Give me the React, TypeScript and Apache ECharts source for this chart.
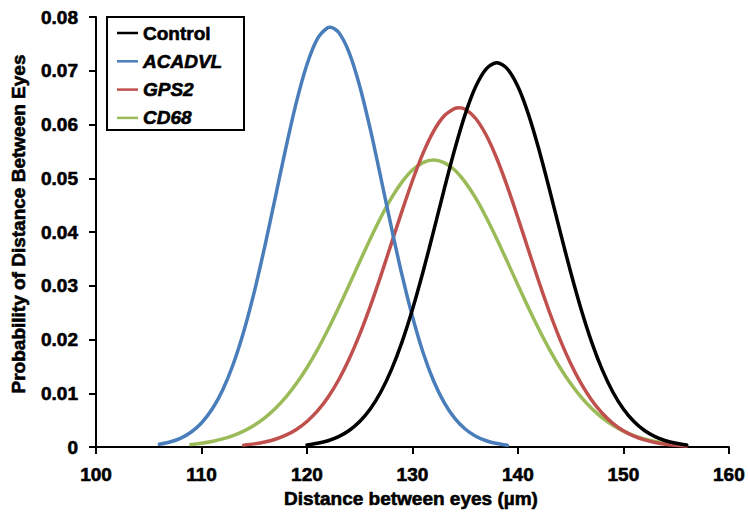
import React, { useEffect, useRef } from "react";
import * as echarts from "echarts";

const FONT = "'Liberation Sans', Arial, sans-serif";

const seriesNames = ["Control", "ACADVL", "GPS2", "CD68"];
const seriesColors = ["#000000", "#4A7EBB", "#C0504D", "#9BBB59"];

const xTicks = [100, 110, 120, 130, 140, 150, 160];
const yTicks = [0, 0.01, 0.02, 0.03, 0.04, 0.05, 0.06, 0.07, 0.08];

const controlX = [
  120, 121, 122, 123, 124, 125, 126, 127, 128, 129, 130, 131, 132, 133, 134, 135, 136, 137,
  138, 139, 140, 141, 142, 143, 144, 145, 146, 147, 148, 149, 150, 151, 152, 153, 154, 155,
  156,
];
const controlValues = [
  0.00039, 0.00069, 0.00117, 0.00193, 0.00307, 0.00474, 0.00708, 0.01024, 0.01435,
  0.01947, 0.02558, 0.03255, 0.04011, 0.04786, 0.0553, 0.06188, 0.06705, 0.07036,
  0.0715, 0.07036, 0.06705, 0.06188, 0.0553, 0.04786, 0.04011, 0.03255, 0.02558,
  0.01947, 0.01435, 0.01024, 0.00708, 0.00474, 0.00307, 0.00193, 0.00117, 0.00069,
  0.00039,
];

const acadvlX = [
  106, 107, 108, 109, 110, 111, 112, 113, 114, 115, 116, 117, 118, 119, 120, 121, 122, 122.2,
  123, 124, 125, 126, 127, 128, 129, 130, 131, 132, 133, 134, 135, 136, 137, 138, 139,
];
const acadvlValues = [
  0.0005, 0.00092, 0.00162, 0.00274, 0.00447, 0.00701, 0.01057, 0.01535, 0.02144,
  0.02882, 0.0373, 0.04643, 0.05564, 0.06416, 0.07117, 0.07597, 0.07804, 0.0781, 0.07715,
  0.07338, 0.06717, 0.05917, 0.05014, 0.0409, 0.0321, 0.02427, 0.01764, 0.01233,
  0.0083, 0.00537, 0.00335, 0.00201, 0.00116, 0.00064, 0.00034,
];

const gps2X = [
  114, 115, 116, 117, 118, 119, 120, 121, 122, 123, 124, 125, 126, 127, 128, 129, 130, 131,
  132, 133, 134, 134.4, 135, 136, 137, 138, 139, 140, 141, 142, 143, 144, 145, 146, 147, 148,
  149, 150, 151, 152, 153, 154, 155, 156,
];
const gps2Values = [
  0.00035, 0.00058, 0.00092, 0.00144, 0.0022, 0.00327, 0.00475, 0.00671, 0.00926,
  0.01246, 0.01636, 0.02094, 0.02615, 0.03184, 0.03783, 0.04383, 0.04953, 0.05462,
  0.05872, 0.06157, 0.06297, 0.0631, 0.06282, 0.06112, 0.05799, 0.05368, 0.04845, 0.04266,
  0.03664, 0.03069, 0.02507, 0.01998, 0.01553, 0.01177, 0.0087, 0.00628, 0.00441,
  0.00303, 0.00202, 0.00132, 0.00084, 0.00052, 0.00032, 0.00019,
];

const cd68X = [
  109, 110, 111, 112, 113, 114, 115, 116, 117, 118, 119, 120, 121, 122, 123, 124, 125, 126,
  127, 128, 129, 130, 131, 132, 133, 134, 135, 136, 137, 138, 139, 140, 141, 142, 143, 144,
  145, 146, 147, 148, 149, 150, 151, 152, 153, 154, 155, 156,
];
const cd68Values = [
  0.00047, 0.00071, 0.00104, 0.0015, 0.00212, 0.00295, 0.00404, 0.00542, 0.00715,
  0.00926, 0.0118, 0.01474, 0.01811, 0.02185, 0.02589, 0.03014, 0.03446, 0.03871,
  0.04271, 0.04629, 0.04927, 0.05153, 0.05292, 0.0534, 0.05292, 0.05153, 0.04927,
  0.04629, 0.04271, 0.03871, 0.03446, 0.03014, 0.02589, 0.02185, 0.01811, 0.01474,
  0.0118, 0.00926, 0.00715, 0.00542, 0.00404, 0.00295, 0.00212, 0.0015, 0.00104,
  0.00071, 0.00047, 0.00031,
];

const seriesXs = [controlX, acadvlX, gps2X, cd68X];
const seriesValues = [controlValues, acadvlValues, gps2Values, cd68Values];

export default function App() {
  const ref = useRef<HTMLDivElement>(null);
  useEffect(() => {
    if (!ref.current) return;
    const chart = echarts.init(ref.current, null, { renderer: "svg" });
    const series = seriesNames.map((name, i) => ({
      name,
      type: "line",
      data: seriesValues[i].map((v, k) => [seriesXs[i][k], v]),
      smooth: 0.3,
      symbol: "none",
      lineStyle: { color: seriesColors[i], width: 3.5, cap: "round", join: "round" },
      itemStyle: { color: seriesColors[i] },
      z: 10 - i,
    }));
    const heavy = { textBorderColor: "#000", textBorderWidth: 0.6 };
    chart.setOption({
      animation: false,
      backgroundColor: "#ffffff",
      textStyle: { fontFamily: FONT, fontWeight: "bold" },
      grid: { left: 96, right: 18, top: 17, bottom: 69, containLabel: false },
      xAxis: {
        type: "value",
        min: xTicks[0],
        max: xTicks[xTicks.length - 1],
        interval: 10,
        splitLine: { show: false },
        axisLine: { show: true, onZero: false, lineStyle: { color: "#000", width: 2 } },
        axisTick: { show: true, inside: false, length: 7, lineStyle: { color: "#000", width: 2 } },
        axisLabel: {
          color: "#000",
          fontSize: 19,
          fontWeight: "bold",
          fontFamily: FONT,
          margin: 18,
          ...heavy,
        },
      },
      yAxis: {
        type: "value",
        min: yTicks[0],
        max: yTicks[yTicks.length - 1],
        interval: 0.01,
        splitLine: { show: false },
        axisLine: { show: true, lineStyle: { color: "#000", width: 2 } },
        axisTick: { show: true, inside: false, length: 7, lineStyle: { color: "#000", width: 2 } },
        axisLabel: {
          color: "#000",
          fontSize: 19,
          fontWeight: "bold",
          fontFamily: FONT,
          margin: 18,
          ...heavy,
          formatter: (v: number) => (v === 0 ? "0" : v.toFixed(2)),
        },
      },
      legend: {
        orient: "vertical",
        left: 117,
        top: 23,
        padding: 0,
        itemWidth: 21,
        itemHeight: 14,
        itemGap: 8.3,
        textStyle: {
          color: "#000",
          fontSize: 19,
          fontWeight: "bold",
          fontFamily: FONT,
          lineHeight: 20,
          ...heavy,
        },
        data: seriesNames.map((n, i) => ({
          name: n,
          icon: "path://M0,6 L21,6 L21,8.5 L0,8.5 Z",
          itemStyle: { color: seriesColors[i] },
          textStyle: {
            fontStyle: i === 0 ? "normal" : "italic",
            fontWeight: "bold",
            fontSize: 19,
            color: "#000",
            ...heavy,
          },
        })),
      },
      graphic: [
        {
          type: "rect",
          shape: { x: 107, y: 17, width: 137, height: 113 },
          style: { fill: "none", stroke: "#000", lineWidth: 2 },
          z: 100,
        },
        {
          type: "text",
          x: 411,
          y: 498,
          style: {
            text: "Distance between eyes (\u00B5m)",
            fontSize: 19,
            fontWeight: "bold",
            fontFamily: FONT,
            fill: "#000",
            stroke: "#000",
            lineWidth: 0.6,
            align: "center",
            verticalAlign: "middle",
          },
        },
        {
          type: "text",
          x: 18,
          y: 224,
          rotation: Math.PI / 2,
          style: {
            text: "Probability of Distance Between Eyes",
            fontSize: 19,
            fontWeight: "bold",
            fontFamily: FONT,
            fill: "#000",
            stroke: "#000",
            lineWidth: 0.6,
            align: "center",
            verticalAlign: "middle",
          },
        },
      ],
      series,
    });
    return () => chart.dispose();
  }, []);
  return <div ref={ref} style={{ width: 748, height: 516, position: "absolute", left: 0, top: 0 }} />;
}
